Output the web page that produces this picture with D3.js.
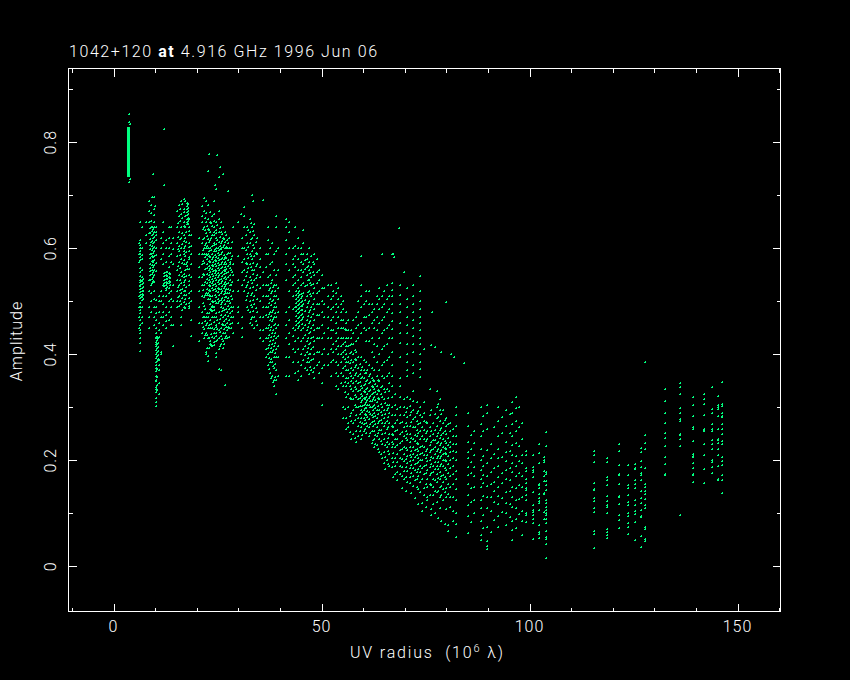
<!DOCTYPE html>
<html><head><meta charset="utf-8">
<script src="https://cdn.jsdelivr.net/npm/d3@7/dist/d3.min.js"></script>
<style>html,body{margin:0;background:#000}svg{display:block}text{fill:#fff;font-family:Roboto,"Liberation Sans",sans-serif;font-weight:300;font-size:16px}</style>
</head><body><svg id="c" width="850" height="680"></svg>
<script>
const titleParts=["1042+120 ","at"," 4.916 GHz 1996 Jun 06"];
const yLabel="Amplitude";
const xMajor=[0,50,100,150];
const xMinor=[-10,10,20,30,40,60,70,80,90,110,120,130,140,160];
const yMajor=[0,0.2,0.4,0.6,0.8];
const yMinor=[0.1,0.3,0.5,0.7,0.9];
// Each row: UV radius, then amplitudes (thousandths).
const denseRuns=[[3.3,3.9,735,829]];
const coreTrack=[[3.5,853,839,725],[3.7,835,731]];
const outliers=[[11.8,826],[9.2,741],[12,720],[8.9,697],[9.8,680],[22.7,778],[24.6,776],[22.5,746],[25.3,753],[25,735],[26,740],[24.2,720],[24.5,712],[27.4,709],[33,701],[33.2,690],[35.6,691],[31.2,678],[30.4,665],[68.5,638],[67,590],[67.1,583],[64.4,590],[59.2,585],[79.7,498],[76.4,480],[84,384],[81,400],[77,413],[127.4,386],[136,97],[78.5,405],[76,418],[81.6,395]];
const streakRows=[
[6.1,547,541,536,529,523,517,511,506,589,583,578],[6.5,545,538,533,526,519,514,508,503,587,580],[6.8,542,535,527,520,512,505],
[8.5,638,629,618,607,599,590,581,571,563,557,549,541],[8.9,641,633,625,614,604,596,586,576,568,559,552,543,535],[9.2,636,627,620,610,601,592,583,574,565,556,546,538],[9.6,640,631,622,612,603,594,585,578,569,560,550,536],[9.9,630,616,600,588,572,558],
[9.9,432,424,416,408,400,393,380,368,352,338,328,318],[10.2,433,427,419,411,404,397,388,372,358,342,333],[10.5,430,421,414,406,398,391],
[11.9,554,547,540,535,528],[12.3,556,550,543,537,531,522],[12.7,555,548,542,535,527],[13.1,553,546,539,534,526],[13.4,552,544,537,530],
[17.4,686,680,674,668,662,656,650,645,574,567,561],[17.7,683,676,670,664,658,652,646],
[22.2,580,570,562,551,543,534,524],[22.6,586,576,567,559,550,541,531,522],[23,583,574,563,555,546,537,528,519,504,495,486],[23.35,590,579,569,561,552,543,534,525,501,491,482],[23.7,584,575,566,557,548,539,530,521,498,489],[24.1,598,588,578,570,560,553,544,533,524,512,500],[24.45,594,584,576,567,557,549,540,529,520,508,496],[24.8,601,592,581,572,563,554,545,536,526,517,505,497],[25.15,596,587,577,568,559,550,541,532,523,511,500],[25.5,599,590,580,571,562,553,542,535,524,515,503,494],[25.85,593,582,574,565,556,547,538,528,519,507,498],[26.2,588,579,570,560,551,544,533,525,513,502],[26.55,584,574,565,558,546,537,529,520,509],[26.9,581,571,561,553,543,532,523],[27.3,578,566,556,546,534,524],[27.7,575,563,549,530,521],
[43.6,520,512,505,497,490,481,472,463,456],[44,516,509,501,493,486,477,468,459],[44.4,519,511,503,495,488,479,470,461,454],[44.8,514,506,498,491,483,474,465],[45.1,510,500,492,484,476,466,458]
];
const shortBaselines=[
[5.9,610,590,575,510,490,470,450],[6.2,650,616,606,600,594,562,555,530,496,490,484,477,465,455,446,440,430,421,407],[6.7,640,600,580,560,540,525,510,490,470,460],[7.6,650,625,610],
[8.3,690,670,650,628,540,520,490,470,450],[8.8,682,666,652,640,612,590,530,515,500,480],[9.4,697,675,662,650,520,505,490,470,455],[10,640,625,503,490,477,465,450,440,430,420,385,375,360,350,335,310,302],[10.6,510,500,480,460,445,432,390,380,370,345,325],
[11.2,620,600,580,520,500,470,440,405,400],[11.6,650,630,610,590,570,530,510,495,480,470,455],[12.4,615,600,575,525,510,490,475,462,450],[13,640,620,600,585,565,525,515,500,480,465],[13.6,640,610,590,575,520,505,490,470,455],[14,620,598,570,530,500,455,415],
[15,670,640,610,585,560,540,520,500,490],[15.5,682,660,630,605,595,575,550,530,510,492],[16,690,665,640,620,600,580,555,535,515,495,470,455],[16.6,693,675,650,625,600,590,570,545,530,512,490],[17,690,660,640,620,605,585,560,540,520,505,487],[17.8,640,625,610,595,580,550,530,515,497,487],[18.3,625,605,590,570,545,520,500,465,435],
[15.3,648,621,598,566,527,508],[15.8,674,651,617,588,563,541,521,501],[16.3,683,657,629,609,572,548,523,506,483],[16.8,668,642,613,594,577,552,537,519,498],[17.3,631,612,593,571,548,527,511,494],[18,655,633,602,583,561,538,507,491],
[20.4,620,590,565,545,520,490,460,425],[21,680,660,650,610,590,570,545,530,510,480,460,440],[21.5,695,670,640,620,600,590,572,550,530,508,492,470,448,430],[22,690,666,650,628,610,600,590,515,470,455,440,405,400],[22.5,682,655,636,618,600,590,515,505,470,450,430,397,388],[23,668,650,630,615,600,510,465,450,425,420],[23.5,660,642,625,605,590,510,490,470,450,432,415],[24,690,665,640,625,610,595,490,470,448,430,418],[24.5,650,635,620,600,470,455,440,425,395],[25,670,655,630,612,480,460,445,430,410,372],[25.5,650,630,610,600,490,475,450,435,420,370],[26,640,620,602,488,470,455,440,425,412],[26.5,630,612,600,515,495,475,455,440,430,342],[27,615,600,590,515,500,480,460,445,430],[27.5,620,600,515,500,485,465,450,432],[28,600,580,560,530,510,490,470,450],[28.6,640,570,550,520,490,470,440],
[21.2,637,618,597,576,552,521,497,471,451],[21.8,658,634,606,583,561,537,512,486,463,437],[22.3,643,623,604,588,511,478,459,436,412],[22.8,634,611,594,512,477,456,431,411],[23.3,647,619,597,483,458,438,418],[23.8,651,631,607,483,461,441,423],[24.3,629,609,478,452,434,403],[24.7,644,616,465,447,427],[25.3,638,621,605,467,442,416],[25.8,627,613,481,458,429],[26.3,618,606,484,463,447,420],[26.8,626,603,508,486,467,451,435],[27.2,610,592,506,491,472,452],[27.8,592,570,541,522,496,477,458],[28.3,612,586,556,536,505,482,459],
[29.6,650,585,540,520,490,480,460],[30.6,620,600,575,555,530,470,450,433],[31.2,660,640,600,580,560,540,520],[31.8,640,610,590,570,555,530,510,490],[32.5,655,630,610,590,570,545,525,500,480,460],[33,640,620,595,580,560,535,515,490,470,455],[33.6,645,625,600,585,560,540,510,495,470,450],[34.2,620,590,570,550,530,505,480,455],[35,600,580,565,545,525,500,470,445,430],
[31.5,625,596,573,548,527,503],[32.1,634,603,581,563,537,515,483],[32.8,648,617,586,564,541,512,493,467],[33.3,632,606,573,552,527,503,481],[33.9,611,592,566,544,521,487,463],
[35.8,555,530,510,490,470,445,425],[36.3,590,565,530,510,490,475,450,430,410,395],[36.9,640,615,590,545,530,510,490,470,450,430,412,400,380],[37.4,600,570,550,525,505,480,465,445,425,405,385,365],[37.9,610,575,540,520,500,480,462,440,420,405,385,360],[38.3,590,560,530,510,490,470,455,435,415,395,375,352,340],[38.8,660,640,595,550,530,510,490,470,450,430,410,395,370,352,326],[39.2,600,560,525,505,480,455,435,415,395,360],
[37.1,522,497,476,456,436,417,393,372],[37.6,535,515,493,473,452,433,412,392,356],[38.1,527,503,484,466,446,427,408,378,347],[38.6,519,497,477,458,441,422,402,381,358],
[41.3,655,640,615,590,570,540,480,455,430,395,360],[42,650,630,600,560,520,490,465,440,420,395,360],[43,600,580,570,545,530,510,485,450,435,410,385],[43.5,640,605,585,565,550,535,490,445,425,405,365],[44.2,620,600,580,560,540,525,450,430,410,385,368,352],[44.8,600,590,575,560,545,530,445,425,400,380,360],[45.4,635,610,590,570,555,535,515,495,470,450,430,410,390],[46.2,590,580,565,550,530,510,490,465,445,425,405,385,370],[46.8,600,575,560,540,520,500,480,460,440,420,400,385,362],[47.3,585,565,545,530,510,490,470,450,430,410,390,370],[48,590,570,550,525,505,485,465,445,425,400,375,355],[48.6,580,555,535,515,495,475,450,430,405,380],[49.2,560,540,520,495,475,450,430,405,385,365],[49.9,550,525,500,480,455,430,400,375,345,305],[50.4,525,495,470,440,410,380],
[45.8,578,561,528,503,481,456,437,416,398,375],[46.5,567,541,517,496,473,452,431,412,393],[47,553,534,513,483,462,443,421,401,377],[47.7,575,556,532,516,494,476,455,433,414,392,366]
];
const midBaselines=[
[51.3,530,510,490,470,450,430,400,380],[52,530,505,485,465,445,430,410,385,360],[52.6,520,510,490,470,445,420,405,390],[53.2,535,515,495,480,460,440,425,410,385,365,340],[53.8,525,505,490,470,450,430,415,400,380,360,335],[54.4,510,495,480,465,450,430,415,400,385,365,345],[55,500,485,465,450,430,420,405,395,375,360,340,300,280],[55.6,480,460,445,430,415,400,385,370,355,340,320,280,260],[56.2,465,445,430,415,395,385,370,355,345,325,300,270,262],[56.8,445,430,420,405,390,375,360,350,335,315,290,275,240],[57.4,465,440,420,400,385,370,355,345,330,315,295,270,250],[58,470,450,425,405,390,380,365,350,335,320,300,285,255,235],[58.6,500,480,455,430,395,375,360,345,330,315,300,280,265,245],[59.3,530,510,490,460,440,395,370,355,340,325,310,295,280,262,240],[59.9,495,470,450,390,370,355,342,330,318,305,295,280,268,255],[60.5,520,500,470,445,425,385,365,350,335,320,310,298,285,270,252],[61.2,520,495,475,450,425,380,360,345,330,318,305,292,278,262,245],[61.8,495,480,460,430,405,375,355,340,325,312,300,285,272,255,232],[62.4,485,465,450,420,395,370,350,335,320,305,290,275,255,240,225],[63,510,495,470,445,415,385,360,340,325,310,295,280,262,245,228],[63.6,525,505,485,460,430,400,370,350,330,315,295,275,258,240,215],[64.2,510,490,465,440,410,380,360,340,320,300,285,270,250,230,205],[64.8,520,495,470,445,415,385,355,335,315,295,280,265,240,215,195],[65.4,530,505,480,450,420,390,360,335,305,295,275,260,235,225,200],[66,510,485,455,430,395,365,345,330,305,290,270,250,230,212,190],
[55.3,447,423,408,392,378,347,328,296],[56.5,418,402,383,364,341,318,283,253],[57.7,408,391,376,361,338,323,304,276,243],[59,382,363,347,333,317,302,287,273,256],[59.6,376,358,336,322,313,303,291,271,247],[60.2,364,344,329,315,306,298,288,276,259],[60.8,371,352,337,326,314,305,293,282,265],[61.5,362,347,333,321,311,301,288,268,251],[62.1,352,338,327,316,302,294,281,265,238],[62.7,344,329,313,298,283,268,248,231],[63.3,351,333,318,303,287,271,251,222],[64,338,326,307,291,277,258,236,211],[65,328,308,288,271,252,228,206,183],[65.7,318,298,282,263,243,217,193],
[66.7,590,534,522,510,495,478,462,448,430,405,380,360,340,320,300,285,265,250,235,225,205,188],[67.4,325,305,285,270,255,240,225,205,190,175],[68.7,530,512,495,480,460,440,422,395,355,340,320,300,285,270,250,232,220,205,190,175],[69.5,555,315,300,285,262,245,225,212,198,180,165],[70.3,525,505,490,470,455,440,420,400,385,370,360,320,298,282,265,250,238,220,208,195,180,160],[71,315,302,285,265,250,235,225,210,198,185,168,158],[71.8,530,510,495,480,465,450,435,420,405,380,365,330,312,295,278,262,240,225,212,200,185,170,152],[72.6,310,290,275,258,245,232,222,210,195,178,165,150],[73.5,548,520,500,485,470,460,445,430,420,400,385,372,358,300,285,270,255,240,225,212,200,190,178,160,140],[74.3,410,310,290,275,258,240,225,210,190,175,148,135],[75,270,255,240,222,210,198,182,165,150,130,125],[75.8,335,285,262,245,228,215,200,188,172,155,135],[76.6,270,250,238,222,205,190,178,165,150,135,118],[77.4,330,300,280,265,245,232,218,205,190,175,160,140,122],[78.2,315,295,275,258,242,228,215,205,190,178,165,150,130,110],[79,295,270,252,240,225,212,200,190,172,160,145,125],[79.8,280,265,250,232,222,212,198,182,165,148,130,108],[80.6,270,255,235,225,215,200,185,170,150,130,112],[81.4,260,245,230,218,205,190,175,155,130,105,85],[82.2,300,285,265,245,230,215,200,180,165,145,125,100,80,55],
[67,262,247,231,213,197,168],[68,296,276,258,241,228,212,196,178,162],[69,273,254,237,221,203,188,171,147],[70,291,271,256,243,224,203,187,169,142],[71.3,292,273,242,218,206,191,176,138],[72.2,281,262,248,236,219,206,193,181,163,128],[73,293,268,252,231,217,205,196,184,171,145,118],[74,281,262,246,227,214,201,186,165,120,104],[74.8,273,251,236,218,204,192,176,156,112],[76,294,256,235,219,207,194,176,153,108,96],[77,287,258,238,226,211,197,183,162,143,100],[77.8,307,281,252,235,222,209,197,184,166,143,92],[78.6,288,261,247,233,219,208,193,171,152,135,85],[79.4,276,255,236,224,214,201,186,169,140,80],[80.2,268,243,228,209,194,176,156,136,78,66]
];
const longBaselines=[
[85,290,265,235,215,205,188,172,155,135,115,95,62],[86.4,255,232,210,188,170,150,125,100],[88,300,268,245,222,200,182,165,150,125,110,85,60,50],[89.5,305,290,260,220,195,170,152,130,110,75,48,38,32],[90.4,230,205,178,155,130,105,65],[92.2,300,275,245,222,205,190,168,150,132,118,95,75],[94,295,265,235,215,198,182,165,140,120,100,78],[95.5,310,290,268,245,228,210,195,178,150,130,112,85,68,50],[96.6,320,298,275,255,232,208,190,170,148,125,110,90,72],[98,270,240,210,195,170,150,130,105,85,60],
[85.6,247,222,196,177,148,122,84],[88.6,283,255,208,190,173,157,133,96,72],[91.3,262,212,186,160,143,122,87],[93.2,282,252,207,176,158,128,103],[95,288,252,218,186,163,142,117,93],[97.3,301,262,227,199,176,153,127,98],
[98.8,218,210,186,180,165,158,148,144,134,126,100,97,83],[100.6,210,187,182,178,168,140,116,106,102,97,90,82,52],[102,230,214,195,156,153,148,136,128,124,120,106,78,65,61,53],[103.2,207,200,197,180,170,161,139,136,102,90],[103.8,254,227,178,174,161,153,144,125,120,112,106,100,97,90,82,81,66,56,51,42,15],
[115.2,218,210,197,158,146,144,128,124,110,102,66,61,34],[118.4,205,197,168,163,154,132,124,115,112,100,70,64,59,53],[121.3,230,218,191,175,172,155,132,130,117,97,87,72],[123.4,191,172,154,148,134,122,115,100,95,82,75,61],[125.1,194,186,184,163,155,148,125,115,105,98,83,50],[126.6,223,216,198,188,177,172,162,142,129,120,107,95,93,57,36],[127.4,247,232,222,186,155,150,142,136,127,116,110,74,71,52,47],
[132.3,335,312,290,270,252,243,227,207,193,175,172],[135.9,346,338,325,299,290,278,275,250,247,240,227,97],[139.1,320,305,284,263,260,236,212,206,208,195,185,175,174,173,159],[141.7,325,315,307,285,260,258,255,231,210,184,157],[143.6,338,296,290,268,260,255,238,230,222,200,196,187,176],[145.1,322,305,300,296,284,260,240,238,232,222,210,190,165,163],[146.1,348,306,303,290,284,282,268,260,250,236,230,206,198,192,173,163,138]
];
const tracks=[...coreTrack,...outliers,...streakRows,...shortBaselines,...midBaselines,...longBaselines];

const W=850,H=680,pL=68.5,pR=780.5,pT=68.5,pB=611.5;
const x=d3.scaleLinear().domain([-10.82,160.33]).range([pL,pR]);
const y=d3.scaleLinear().domain([-0.0852,0.9392]).range([pB,pT]);
const svg=d3.select("#c");
svg.append("rect").attr("width",W).attr("height",H).attr("fill","#000");
const green="#00ff80";
const plot=svg.append("g").attr("fill",green).attr("shape-rendering","crispEdges");
plot.selectAll("rect").data(denseRuns).join("rect")
 .attr("x",d=>x(d[0])).attr("width",d=>x(d[1])-x(d[0])).attr("y",d=>y(d[3]/1000)).attr("height",d=>y(d[2]/1000)-y(d[3]/1000));
const pts=tracks.flatMap(r=>r.slice(1).map(a=>[r[0],a/1000]));
plot.append("path").attr("d",pts.map(([u,a])=>`M${Math.round(x(u))},${Math.round(y(a))}h1v-1h1v2h-2z`).join(""));

const frameG=svg.append("g").attr("shape-rendering","crispEdges");
function axis(gen,vals,size,tx,ty){
 const g=frameG.append("g").attr("transform",`translate(${tx},${ty})`)
  .call(gen.tickValues(vals).tickSize(size).tickPadding(0).tickFormat(""));
 g.select(".domain").remove(); g.selectAll("line").attr("stroke","#fff");
}
[[xMajor,8],[xMinor,4]].forEach(([v,s])=>{
 axis(d3.axisTop(x),v,s,0,pB); axis(d3.axisBottom(x),v,s,0,pT);
});
[[yMajor,8],[yMinor,4]].forEach(([v,s])=>{
 axis(d3.axisRight(y),v,s,pL,0); axis(d3.axisLeft(y),v,s,pR,0);
});
frameG.append("rect").attr("x",pL).attr("y",pT).attr("width",pR-pL).attr("height",pB-pT).attr("fill","none").attr("stroke","#fff");

const titleT=svg.append("text").attr("x",69).attr("y",57).attr("textLength",308).attr("xml:space","preserve");
titleParts.forEach((t,i)=>titleT.append("tspan").text(t).attr("font-weight",i==1?"bold":null));
svg.selectAll(".xt").data(xMajor).join("text").attr("class","xt").attr("x",d=>x(d)).attr("y",632).attr("text-anchor","middle").attr("letter-spacing",1).text(d=>d);
svg.selectAll(".yt").data(yMajor).join("text").attr("class","yt").attr("text-anchor","middle").attr("letter-spacing",1)
 .attr("transform",d=>`translate(56,${y(d)}) rotate(-90)`).text(d=>d);
svg.append("text").attr("text-anchor","middle").attr("letter-spacing",1).attr("transform","translate(22,341) rotate(-90)").text(yLabel);
const xl=svg.append("text").attr("x",350).attr("y",658).attr("xml:space","preserve").attr("textLength",153);
xl.append("tspan").text("UV radius  (10");
xl.append("tspan").attr("dy",-6).attr("font-size",11).text("6");
xl.append("tspan").attr("dy",6).text(" λ)");
</script></body></html>
